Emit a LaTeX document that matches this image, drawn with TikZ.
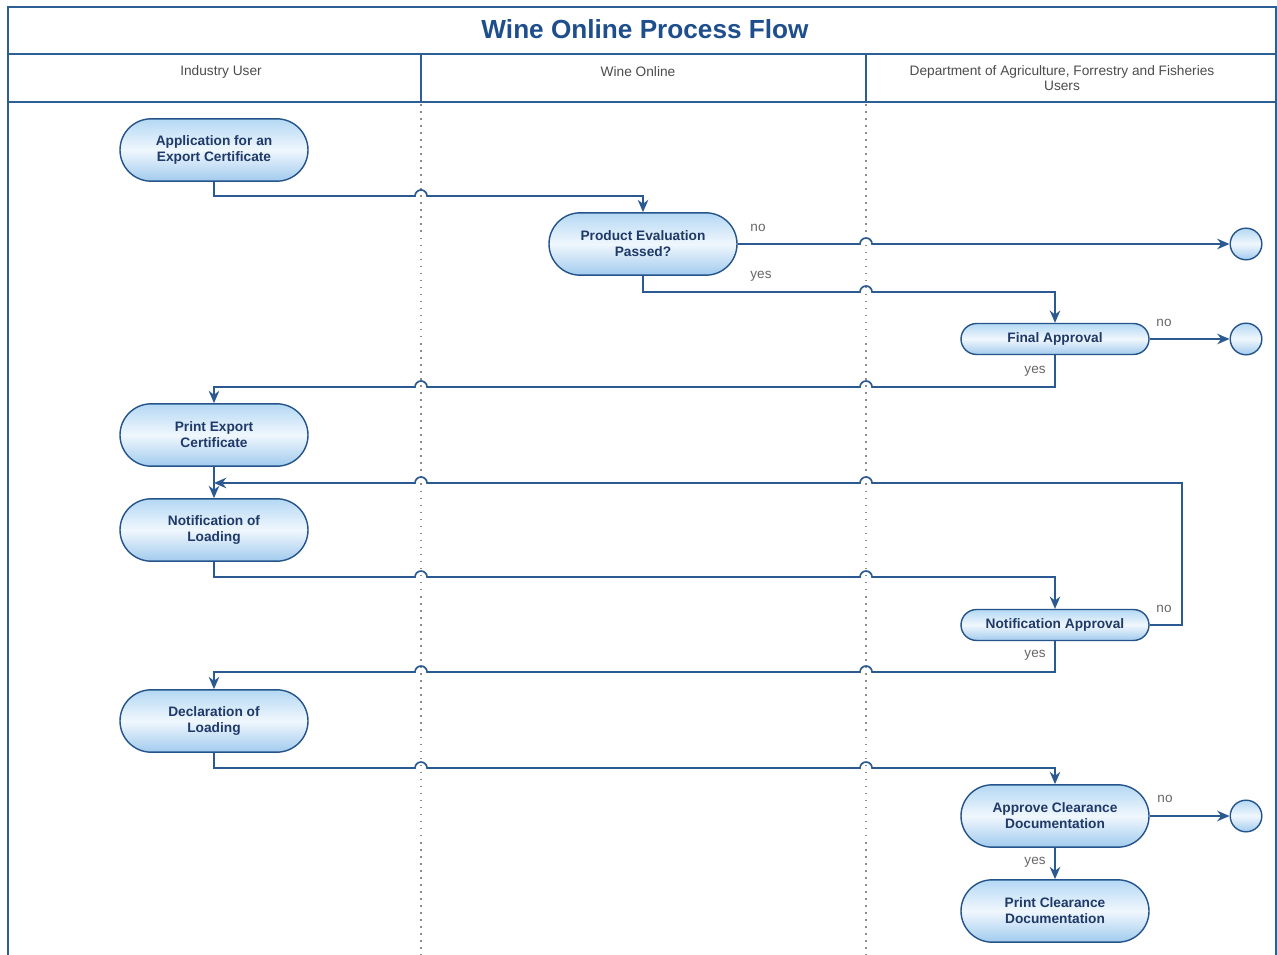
\documentclass[tikz,border=0pt]{standalone}
\usepackage{fontspec}
\setmainfont{Liberation Sans}
\usetikzlibrary{shapes.misc, arrows.meta}
\definecolor{frameblue}{HTML}{2C5F94}
\definecolor{titleblue}{HTML}{1F4E8C}
\definecolor{flowblue}{HTML}{2B5A93}
\definecolor{nodeline}{HTML}{24548A}
\definecolor{nodetext}{HTML}{1F3A68}
\definecolor{filltop}{HTML}{B4D8F4}
\definecolor{fillmid}{HTML}{F0F7FD}
\definecolor{fillbot}{HTML}{A2CBEE}
\tikzset{>={Stealth[length=7pt, width=6pt]},
  stepnode/.style={rounded rectangle, draw=nodeline, line width=0.8pt,
    top color=filltop, bottom color=fillbot, middle color=fillmid,
    minimum width=109pt, minimum height=35.5pt, inner sep=1pt, align=center,
    text=nodetext, font=\fontsize{7.8}{9}\selectfont\bfseries},
  flatnode/.style={stepnode, minimum height=17.6pt},
  endnode/.style={circle, draw=nodeline, line width=0.8pt,
    top color=filltop, bottom color=fillbot, middle color=fillmid,
    minimum size=18pt, inner sep=0pt},
  flow/.style={->, draw=flowblue, line width=0.95pt},
  lbl/.style={text=black!60, font=\fontsize{7.7}{9}\selectfont},
  lanehead/.style={text=black!70, align=center, font=\fontsize{7.8}{8.6}\selectfont}
}

\begin{document}
\begin{tikzpicture}[x=0.02cm, y=-0.02cm]
    \useasboundingbox[fill=white] (0,0) rectangle (1277,955);
    \draw[frameblue, line width=0.85pt] (8,955) -- (8,7) -- (1276,7) -- (1276,955);
    \draw[frameblue, line width=0.85pt] (8,54) -- (1276,54);
    \draw[frameblue, line width=0.85pt] (8,102) -- (1276,102);
    \foreach \x in {421,866} {
    \draw[frameblue, line width=0.85pt] (\x,54) -- (\x,102);
    \draw[black!45, line width=0.9pt, dash pattern=on 0.9pt off 3.1pt] (\x,104) -- (\x,955);
    }
    \node[text=titleblue, font=\fontsize{14.9}{17}\selectfont\bfseries] (title) at (645,29) {Wine Online Process Flow};
    \node[lanehead] (lane1) at (221,72) {Industry User};
    \node[lanehead] (lane2) at (638,72) {Wine Online};
    \node[lanehead] (lane3) at (1062,78) {Department of Agriculture, Forrestry and Fisheries\\Users};

    \node[stepnode] (app) at (214,150) {Application for an\\Export Certificate};
    \node[stepnode] (pe) at (643,244) {Product Evaluation\\Passed?};
    \node[flatnode] (fa) at (1055,339) {Final Approval};
    \node[stepnode] (pec) at (214,435) {Print Export\\Certificate};
    \node[stepnode] (nl) at (214,530) {Notification of\\Loading};
    \node[flatnode] (na) at (1055,625) {Notification Approval};
    \node[stepnode] (dl) at (214,721) {Declaration of\\Loading};
    \node[stepnode] (ac) at (1055,816) {Approve Clearance\\Documentation};
    \node[stepnode] (pc) at (1055,911) {Print Clearance\\Documentation};
    \foreach \n/\y in {end1/244, end2/339, end3/816}
    \node[endnode] (\n) at (1246,\y) {};
    \coordinate (merge) at (214,483);

    \draw[flow] (app.south) |- (415,196) arc[start angle=180, end angle=0, radius=0.12cm] -| (pe.north);
    \draw[flow] (pe.east) -- (860,244) arc[start angle=180, end angle=0, radius=0.12cm] -- (end1.west);
    \draw[flow] (pe.south) |- (860,292) arc[start angle=180, end angle=0, radius=0.12cm] -| (fa.north);
    \draw[flow] (fa.east) -- (end2.west);
    \draw[flow] (fa.south) |- (872,387) arc[start angle=0, end angle=180, radius=0.12cm]
        -- (427,387) arc[start angle=0, end angle=180, radius=0.12cm] -| (pec.north);
    \draw[flow] (pec.south) -- (nl.north);
    \draw[flow] (nl.south) |- (415,577) arc[start angle=180, end angle=0, radius=0.12cm]
        -- (860,577) arc[start angle=180, end angle=0, radius=0.12cm] -| (na.north);
    \draw[flow] (na.east) -| (1182,483) -- (872,483) arc[start angle=0, end angle=180, radius=0.12cm]
        -- (427,483) arc[start angle=0, end angle=180, radius=0.12cm] -- (merge);
    \draw[flow] (na.south) |- (872,672) arc[start angle=0, end angle=180, radius=0.12cm]
        -- (427,672) arc[start angle=0, end angle=180, radius=0.12cm] -| (dl.north);
    \draw[flow] (dl.south) |- (415,768) arc[start angle=180, end angle=0, radius=0.12cm]
        -- (860,768) arc[start angle=180, end angle=0, radius=0.12cm] -| (ac.north);
    \draw[flow] (ac.east) -- (end3.west);
    \draw[flow] (ac.south) -- (pc.north);

    \node[lbl] (no1) at (758,228) {no};
    \node[lbl] (yes1) at (761,276) {yes};
    \node[lbl] (no2) at (1164,323) {no};
    \node[lbl] (yes2) at (1035,371) {yes};
    \node[lbl] (no3) at (1164,609) {no};
    \node[lbl] (yes3) at (1035,655) {yes};
    \node[lbl] (no4) at (1165,799) {no};
    \node[lbl] (yes4) at (1035,862) {yes};
    \end{tikzpicture}
\end{document}
